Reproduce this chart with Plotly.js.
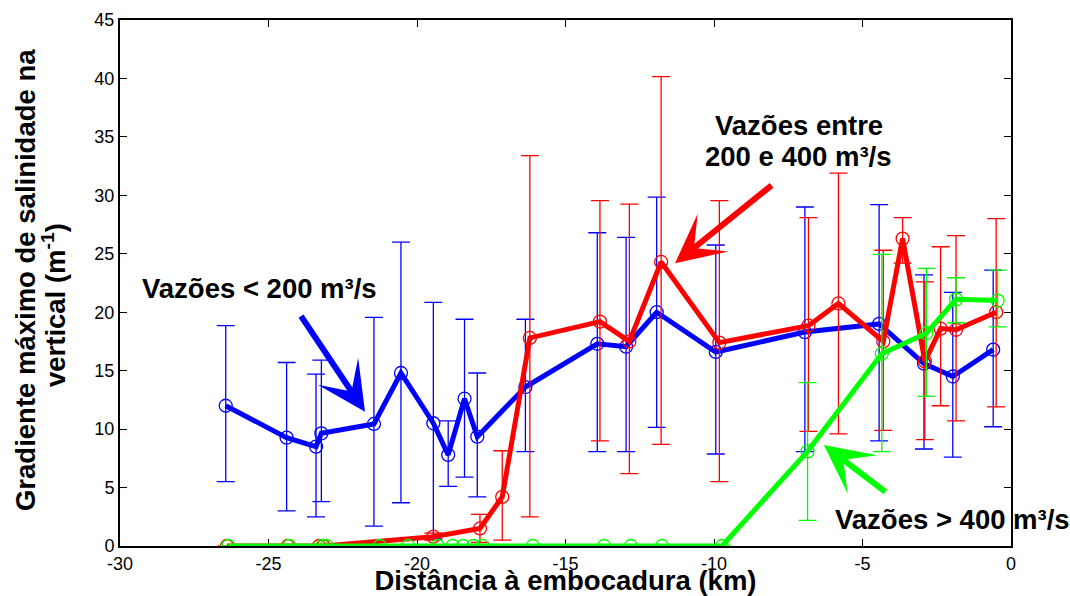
<!DOCTYPE html>
<html>
<head>
<meta charset="utf-8">
<script src="https://cdn.plot.ly/plotly-3.0.1.min.js"></script>
<style>html,body{margin:0;padding:0;background:#fff;}#chart{width:1070px;height:596px;}</style>
</head>
<body>
<div id="chart"></div>
<script>
// Vazões < 200 m³/s
const blueX  = [-26.44, -24.39, -23.4, -23.22, -21.45, -20.54, -19.45, -18.95, -18.4, -17.97, -16.35, -13.93, -12.96, -11.93, -9.94, -6.94, -4.44, -2.93, -1.96, -0.6];
const blueY  = [12.0, 9.27, 8.5, 9.64, 10.44, 14.8, 10.5, 7.8, 12.6, 9.35, 13.6, 17.3, 17.05, 20.0, 16.6, 18.3, 19.0, 15.6, 14.5, 16.8];
const blueHi = [18.85, 15.7, 14.7, 15.9, 19.56, 26.0, 20.85, 10.7, 19.4, 14.8, 19.4, 26.8, 26.4, 29.85, 25.75, 29.0, 29.2, 23.2, 21.7, 23.6];
const blueLo = [5.5, 3.0, 2.5, 3.8, 1.7, 3.7, 0.6, 5.1, 5.9, 4.2, 8.07, 8.07, 8.07, 10.15, 7.87, 8.07, 9.0, 8.3, 7.6, 10.2];

// Vazões entre 200 e 400 m³/s
const redX  = [-26.4, -24.35, -23.3, -23.15, -19.45, -17.88, -17.13, -16.2, -13.84, -12.85, -11.78, -9.82, -6.82, -5.81, -4.3, -3.65, -2.9, -2.37, -1.85, -0.5];
const redY  = [0, 0, 0, 0, 0.8, 1.5, 4.2, 17.8, 19.2, 17.5, 24.3, 17.4, 18.85, 20.75, 17.5, 26.3, 15.8, 18.6, 18.5, 20.0];
const redHi = [null, null, null, null, 1.1, 2.7, 8.15, 33.4, 29.55, 29.25, 40.15, 29.55, 28.1, 31.9, 25.3, 28.1, 22.6, 25.6, 26.55, 28.0];
const redLo = [null, null, null, null, 0.5, 0.3, 0.5, 2.5, 9.0, 6.2, 8.7, 5.5, 9.8, 9.6, 9.9, 24.2, 9.1, 12.0, 10.7, 11.9];

// Vazões > 400 m³/s
const greenX  = [-26.35, -24.3, -23.2, -23.05, -21.25, -20.3, -19.3, -18.8, -18.45, -18.1, -17.8, -16.1, -13.7, -12.8, -11.75, -9.73, -6.85, -4.35, -2.85, -1.85, -0.45];
const greenY  = [0, 0, 0, 0, 0, 0, 0, 0, 0, 0, 0, 0, 0, 0, 0, 0, 8.1, 16.45, 18.2, 21.1, 21.0];
const greenHi = [null, null, null, null, null, null, null, null, null, null, null, null, null, null, null, null, 13.97, 24.95, 23.75, 22.95, 23.6];
const greenLo = [null, null, null, null, null, null, null, null, null, null, null, null, null, null, null, null, 2.2, 8.07, 12.8, 19.1, 18.75];

const xTicks = [-30, -25, -20, -15, -10, -5, 0];
const yTicks = [0, 5, 10, 15, 20, 25, 30, 35, 40, 45];

function plus(hi, y)  { return hi.map((h, i) => h === null ? null : h - y[i]); }
function minus(lo, y) { return lo.map((l, i) => l === null ? null : y[i] - l); }

function series(x, y, hi, lo, color) {
  return {
    x: x, y: y, type: 'scatter', mode: 'lines+markers',
    line: {color: color, width: 5},
    marker: {symbol: 'circle-open', size: 13, color: color, line: {width: 1.3, color: color}},
    error_y: {type: 'data', symmetric: false, array: plus(hi, y), arrayminus: minus(lo, y),
              color: color, thickness: 1.3, width: 9},
    showlegend: false, cliponaxis: true
  };
}

const data = [
  series(blueX, blueY, blueHi, blueLo, '#0000ff'),
  series(redX, redY, redHi, redLo, '#ff0000'),
  series(greenX, greenY, greenHi, greenLo, '#00ff00')
];

const FONT = 'Liberation Sans, Arial, sans-serif';
const bold = {family: FONT, size: 27.5, color: '#000'};

function arrow(x, y, ax, ay, color) {
  return {x: x, y: y, xref: 'x', yref: 'y', text: '', showarrow: true, ax: ax, ay: ay,
          arrowcolor: color, arrowwidth: 6, arrowhead: 3, arrowsize: 1.35, standoff: 0};
}

const layout = {
  width: 1070, height: 596,
  margin: {l: 120, r: 59, t: 20, b: 50},
  paper_bgcolor: '#fff', plot_bgcolor: '#fff',
  font: {family: FONT, size: 18, color: '#000'},
  xaxis: {
    range: [-30, 0], tickvals: xTicks, ticktext: xTicks.map(String),
    showgrid: false, zeroline: false, showline: true, linecolor: '#000', linewidth: 2,
    mirror: 'ticks', ticks: 'inside', ticklen: 7, tickwidth: 1, tickcolor: '#000',
    layer: 'below traces',
    title: {text: '<b>Distância à embocadura (km)</b>', font: bold, standoff: 0}
  },
  yaxis: {
    range: [0, 45], tickvals: yTicks, ticktext: yTicks.map(String),
    showgrid: false, zeroline: false, showline: true, linecolor: '#000', linewidth: 2,
    mirror: 'ticks', ticks: 'inside', ticklen: 7, tickwidth: 1, tickcolor: '#000'
  },
  annotations: [
    // y-axis title, two tightly spaced lines
    {x: -0.1066, y: 0.5057, xref: 'paper', yref: 'paper', xanchor: 'center', yanchor: 'middle',
     textangle: -90, showarrow: false, text: '<b>Gradiente máximo de salinidade na</b>', font: bold},
    {x: -0.0741, y: 0.458, xref: 'paper', yref: 'paper', xanchor: 'center', yanchor: 'middle',
     textangle: -90, showarrow: false, text: '<b>vertical (m<sup>-1</sup>)</b>', font: bold},
    {x: -25.32, y: 22.07, xref: 'x', yref: 'y', text: '<b>Vazões < 200 m³/s</b>', showarrow: false, font: bold},
    {x: -7.15, y: 35.99, xref: 'x', yref: 'y', text: '<b>Vazões entre</b>', showarrow: false, font: bold},
    {x: -7.17, y: 33.3, xref: 'x', yref: 'y', text: '<b>200 e 400 m³/s</b>', showarrow: false, font: bold},
    {x: -5.99, y: 2.31, xref: 'x', yref: 'y', xanchor: 'left', text: '<b>Vazões > 400 m³/s</b>', showarrow: false, font: bold},
    arrow(-21.75, 11.49, -65, -97, '#0000ff'),
    arrow(-11.31, 24.2, 98, -79, '#ff0000'),
    arrow(-6.3, 8.64, 63, 48, '#00ff00')
  ]
};

Plotly.newPlot('chart', data, layout, {displayModeBar: false, staticPlot: true});
</script>
</body>
</html>
